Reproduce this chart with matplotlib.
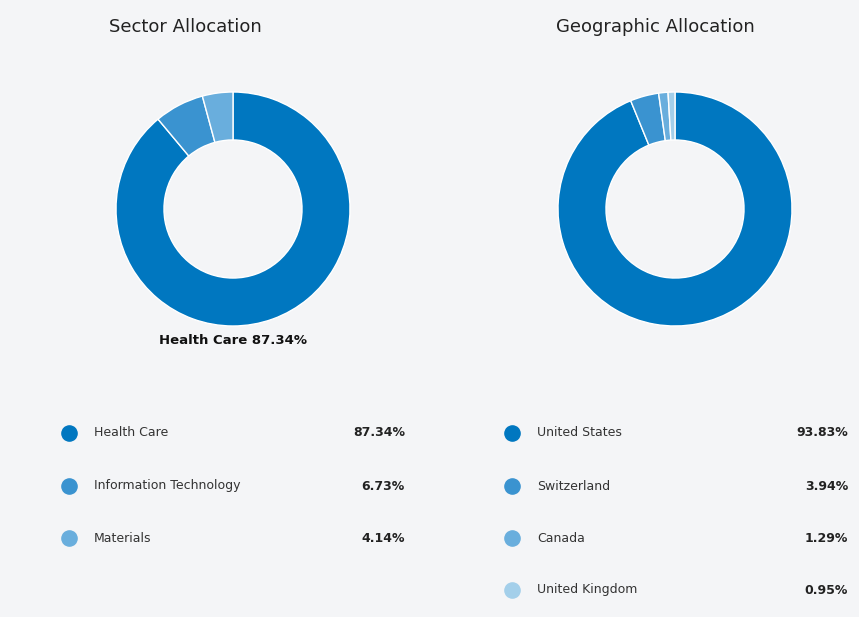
import matplotlib.pyplot as plt

sector_labels = ["Health Care", "Information Technology", "Materials"]
sector_values = [87.34, 6.73, 4.14]
geo_labels = ["United States", "Switzerland", "Canada", "United Kingdom"]
geo_values = [93.83, 3.94, 1.29, 0.95]
colors = ["#0077c0", "#3a93d0", "#69aedd", "#a3cfea"]

W, H = 859, 617
bg = "#f4f5f7"
fig = plt.figure(figsize=(W / 100, H / 100), dpi=100, facecolor=bg)


def donut(cx, cy, r, values):
    ax = fig.add_axes([(cx - r) / W, (H - cy - r) / H, 2 * r / W, 2 * r / H])
    ax.pie(values, colors=colors[:len(values)], startangle=90, counterclock=False,
           radius=1, wedgeprops=dict(width=0.41, edgecolor="white", linewidth=1))
    ax.set_xlim(-1, 1)
    ax.set_ylim(-1, 1)
    ax.set_aspect("equal")
    ax.axis("off")


donut(233, 209, 117, sector_values)
donut(675, 209, 117, geo_values)

ov = fig.add_axes([0, 0, 1, 1])
ov.set_xlim(0, W)
ov.set_ylim(H, 0)
ov.axis("off")
ov.patch.set_alpha(0)

ov.text(185, 27, "Sector Allocation", fontsize=13, ha="center", va="center", color="#222222")
ov.text(655, 27, "Geographic Allocation", fontsize=13, ha="center", va="center", color="#222222")
ov.text(233, 340, f"{sector_labels[0]} {sector_values[0]:.2f}%", fontsize=9.5,
        fontweight="bold", ha="center", va="center", color="#111111")

rows_y = [433, 486, 538, 590]


def legend(xdot, xlab, xval, labels, values):
    for i, (lab, val) in enumerate(zip(labels, values)):
        y = rows_y[i]
        ov.scatter([xdot], [y], s=120, color=colors[i], zorder=3)
        ov.text(xlab, y, lab, fontsize=9, ha="left", va="center", color="#333333")
        ov.text(xval, y, f"{val:.2f}%", fontsize=9, fontweight="bold",
                ha="right", va="center", color="#222222")


legend(69, 94, 405, sector_labels, sector_values)
legend(512, 537, 848, geo_labels, geo_values)

fig.savefig("out.png", dpi=100, facecolor=bg)
